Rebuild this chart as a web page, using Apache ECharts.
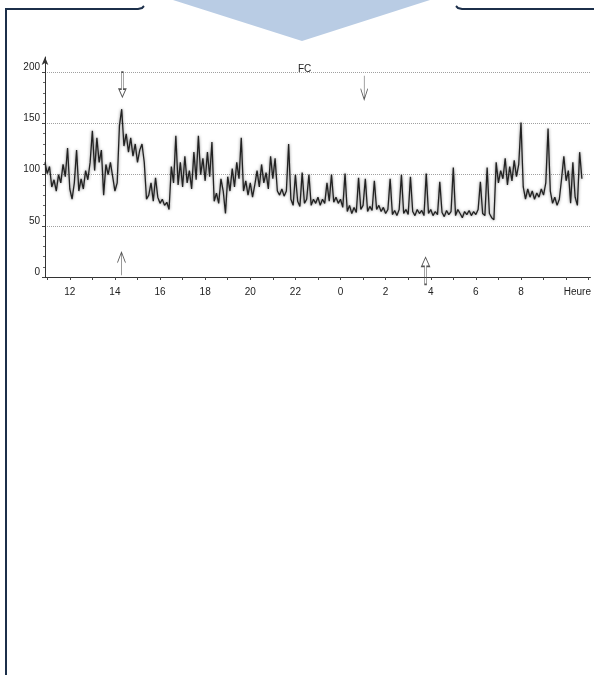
<!DOCTYPE html>
<html>
<head>
<meta charset="utf-8">
<script src="https://cdn.jsdelivr.net/npm/echarts@6/dist/echarts.min.js"></script>
<style>
  html, body { margin: 0; padding: 0; background: #fff; }
  #chart { width: 594px; height: 675px; }
</style>
</head>
<body>
<div id="chart"></div>
<script>
const FONT = 'Liberation Sans, Arial, sans-serif'

// FC (bpm), one reading every 0.1 h starting at 10.9 h (hours past midnight run on past 24)
const fcStart = 10.9
const fcStep = 0.1
const fc = [
  112, 101, 108, 88, 95, 84, 100, 92, 110, 98,
  126, 86, 76, 92, 124, 84, 96, 86, 104, 95,
  112, 143, 104, 136, 112, 124, 80, 110, 100, 112,
  98, 84, 92, 148, 164, 128, 140, 122, 136, 118,
  130, 112, 124, 130, 112, 76, 80, 92, 74, 97,
  78, 72, 76, 70, 73, 66, 108, 92, 138, 90,
  112, 88, 118, 92, 104, 86, 122, 95, 138, 100,
  116, 94, 122, 98, 132, 74, 82, 72, 96, 84,
  62, 98, 84, 106, 88, 112, 96, 136, 84, 94,
  80, 92, 78, 90, 104, 88, 110, 92, 102, 86,
  118, 96, 116, 84, 80, 86, 79, 84, 130, 76,
  70, 100, 74, 69, 102, 72, 76, 100, 70, 76,
  72, 78, 70, 76, 72, 92, 74, 100, 73, 78,
  72, 76, 68, 101, 64, 70, 62, 68, 63, 97,
  66, 70, 96, 64, 69, 65, 94, 66, 70, 64,
  68, 62, 66, 96, 61, 65, 60, 66, 100, 62,
  66, 61, 98, 64, 60, 66, 62, 65, 60, 101,
  62, 66, 60, 64, 61, 93, 63, 59, 65, 61,
  64, 107, 60, 66, 62, 58, 64, 61, 65, 60,
  64, 61, 66, 93, 62, 60, 107, 62, 58, 56,
  112, 92, 104, 96, 116, 90, 108, 94, 114, 98,
  110, 151, 88, 76, 86, 78, 84, 76, 82, 78,
  86, 80, 92, 145, 84, 72, 78, 70, 76, 96,
  118, 94, 104, 72, 112, 78, 70, 122, 96,
]

const hourTicks = [11, 12, 13, 14, 15, 16, 17, 18, 19, 20, 21, 22, 23, 24, 25, 26, 27, 28, 29, 30, 31, 32, 33, 34, 35]
const hourLabels = [12, 14, 16, 18, 20, 22, 24, 26, 28, 30, 32]
const unitPos = 34.5 // where "Heure" sits
const bpmLabels = [0, 50, 100, 150, 200]

// event markers: [hour, bpm, kind]
const markers = [
  [14.33, 188, 'hollowDown'],
  [25.05, 185, 'thinDown'],
  [14.29, 13, 'thinUp'],
  [27.77, 6, 'hollowUp'],
]

const SYMBOLS = {
  hollowDown: { path: 'path://M3,0 L5,0 L5,17 L8,17 L4,25 L0,17 L3,17 Z', size: [7, 25] },
  thinDown: { path: 'path://M4,0 L4,24 M0,13 L4,24 L8,13', size: [7, 24] },
  thinUp: { path: 'path://M4,24 L4,0 M0,11 L4,0 L8,11', size: [8, 23] },
  hollowUp: { path: 'path://M3,27 L5,27 L5,9 L8,9 L4,0 L0,9 L3,9 Z', size: [8, 27] },
}

const fcData = fc.map((v, i) => [+(fcStart + i * fcStep).toFixed(2), v])

const chart = echarts.init(document.getElementById('chart'))

chart.setOption({
  backgroundColor: '#fff',
  animation: false,
  title: {
    text: 'FC',
    left: 293,
    top: 59,
    textStyle: { fontSize: 10, fontWeight: 'normal', color: '#222', fontFamily: FONT },
  },
  grid: { left: 45, right: 0, top: 57, bottom: 398, containLabel: false },
  xAxis: {
    type: 'value',
    min: 10.9,
    max: 35.08,
    axisLine: { show: true, lineStyle: { color: '#333', width: 1 } },
    axisTick: { show: true, customValues: hourTicks, length: 3, lineStyle: { color: '#444' } },
    axisLabel: {
      customValues: hourLabels.concat([unitPos]),
      margin: 10,
      fontSize: 10,
      color: '#222',
      fontFamily: FONT,
      formatter: (v) => (v === unitPos ? 'Heure' : String(v % 24)),
    },
    splitLine: { show: false },
  },
  yAxis: {
    type: 'value',
    min: 0,
    max: 215,
    axisLine: {
      show: true,
      symbol: ['none', 'arrow'],
      symbolSize: [5, 8],
      lineStyle: { color: '#333', width: 1 },
    },
    axisTick: { show: true, customValues: bpmLabels, length: 3, lineStyle: { color: '#444' } },
    minorTick: { show: true, splitNumber: 5, length: 2, lineStyle: { color: '#666' } },
    axisLabel: {
      customValues: bpmLabels,
      margin: 5,
      fontSize: 10,
      color: '#222',
      fontFamily: FONT,
      verticalAlign: 'bottom',
    },
    splitLine: { show: true, lineStyle: { color: '#a0a0a0', type: 'dotted', width: 1 } },
  },
  series: [
    {
      type: 'line',
      data: fcData,
      symbol: 'none',
      lineStyle: {
        color: '#222',
        width: 1.3,
        shadowBlur: 3,
        shadowColor: 'rgba(0,0,0,0.5)',
      },
      z: 3,
      markPoint: {
        silent: true,
        label: { show: false },
        itemStyle: { color: 'rgba(0,0,0,0)', borderColor: '#555', borderWidth: 1 },
        data: markers.map(([h, v, kind]) => ({
          coord: [h, v],
          symbol: SYMBOLS[kind].path,
          symbolSize: SYMBOLS[kind].size,
          symbolKeepAspect: false,
        })),
      },
    },
  ],
  graphic: [
    {
      type: 'polygon',
      shape: { points: [[173, 0], [430, 0], [302, 41]] },
      style: { fill: '#b9cce4' },
      z: 10,
    },
    {
      type: 'polyline',
      shape: { points: [[6, 675], [6, 9], [138, 9], [142, 8], [144, 6]] },
      style: { stroke: '#1c2f4a', lineWidth: 2, fill: null },
      z: 10,
    },
    {
      type: 'polyline',
      shape: { points: [[456, 6], [458, 8], [462, 9], [594, 9]] },
      style: { stroke: '#1c2f4a', lineWidth: 2, fill: null },
      z: 10,
    },
  ],
})
</script>
</body>
</html>
